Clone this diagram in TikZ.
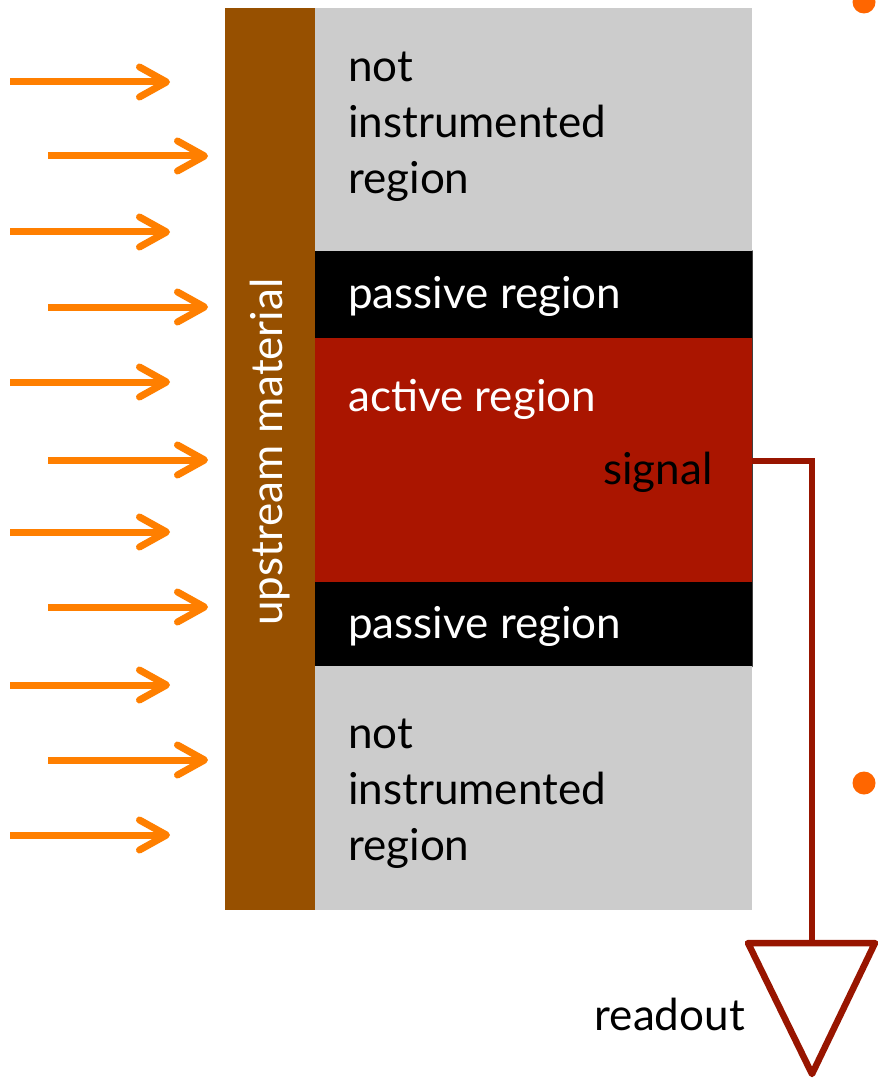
\documentclass[tikz,border=0pt]{standalone}
\usepackage{fontspec}
\setmainfont{Lato}
\definecolor{upstreambrown}{HTML}{975000}
\definecolor{uninstgray}{HTML}{CCCCCC}
\definecolor{activered}{HTML}{AA1500}
\definecolor{readoutred}{HTML}{981500}
\definecolor{beamorange}{HTML}{FF7F00}
\definecolor{bulletorange}{HTML}{FF6600}
\usetikzlibrary{arrows.meta}

\begin{document}
\begin{tikzpicture}[
  x=1pt,
  y=-1pt,
  line join=round,
  line cap=round,
  slab/.style={draw=none,inner sep=0pt,anchor=north west,minimum width=437pt},
  edge/.style={draw=black!75,line width=1.2pt},
  beam/.style={draw=beamorange,line width=7pt,line cap=butt,
    -{Straight Barb[length=27pt,width=30pt,round]}},
  wire/.style={draw=readoutred,line width=6.5pt,line cap=butt,line join=miter},
  label/.style={font=\fontsize{44}{56}\selectfont,inner sep=0pt,align=left},
  bullet/.style={circle,fill=bulletorange,inner sep=0pt,minimum size=23pt}
]
  \useasboundingbox (0,0) rectangle (878,1083);

  % detector layers, top to bottom
  \node[slab,fill=uninstgray,minimum height=243pt] (topgray) at (315,8) {};
  \node[slab,fill=black,minimum height=87pt] (toppassive) at (315,251) {};
  \node[slab,fill=activered,minimum height=244pt] (active) at (315,338) {};
  \node[slab,fill=black,minimum height=84pt] (botpassive) at (315,582) {};
  \node[slab,fill=uninstgray,minimum height=244pt] (botgray) at (315,666) {};
  \draw[edge] (toppassive.north east) -- (botpassive.south east);

  \node[draw=none,fill=upstreambrown,inner sep=0pt,anchor=north west,
    minimum width=90pt,minimum height=902pt] (upstream) at (225,8) {};
  \node[label,text=white,rotate=90] (upstreamtext) at (270,452) {upstream material};

  % multi-line labels sit on the baseline of their last line
  \node[label,anchor=base west] (toptext) at (348,194) {not\\instrumented\\region};
  \node[label,anchor=base west,text=white] (toppassivetext) at (348,308) {passive region};
  \node[label,anchor=base west,text=white] (activetext) at (348,411) {active region};
  \node[label,anchor=base west] (signaltext) at (603,484) {signal};
  \node[label,anchor=base west,text=white] (botpassivetext) at (348,638) {passive region};
  \node[label,anchor=base west] (bottext) at (348,860) {not\\instrumented\\region};

  % incoming particles
  \foreach \yy in {82,232,382,532,685,835}
    \draw[beam] (10,\yy) -- (170,\yy);
  \foreach \yy in {156,307,460,607,760}
    \draw[beam] (48,\yy) -- (208,\yy);

  % signal line to the readout
  \coordinate (tap) at (752,461);
  \coordinate (corner) at (812,461);
  \coordinate (amptop) at (812,943);
  \draw[wire] (tap) -- (corner) -- (amptop);
  \draw[wire,line join=round,fill=white] (748,943) -- (875,943) -- (812,1074) -- cycle;
  \node[label,anchor=base east] (readouttext) at (745,1030) {readout};

  \node[bullet] (dotone) at (864,2) {};
  \node[bullet] (dottwo) at (864,783) {};
\end{tikzpicture}
\end{document}
